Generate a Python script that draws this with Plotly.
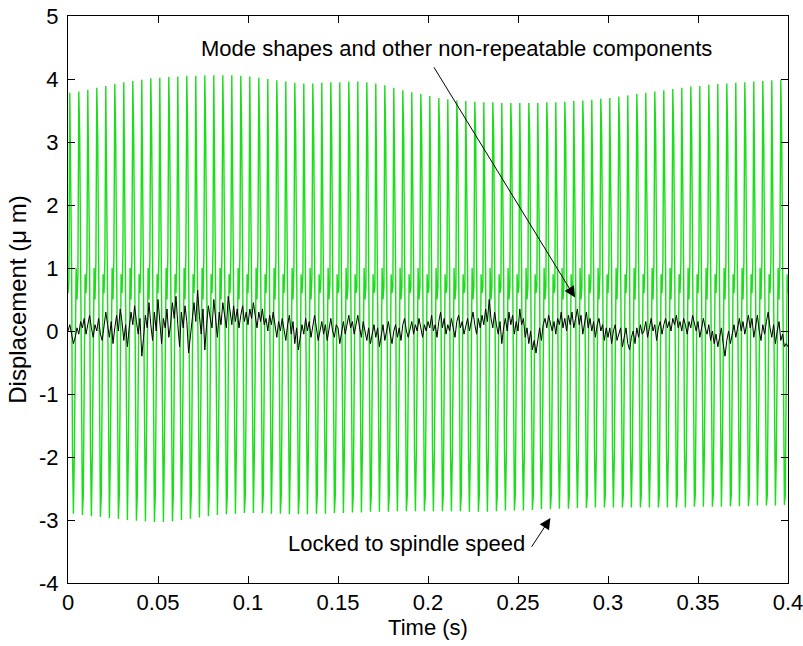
import plotly.graph_objects as go

# ---------------- data ----------------
x_ticks = [0, 0.05, 0.1, 0.15, 0.2, 0.25, 0.3, 0.35, 0.4]
x_tick_labels = ["0", "0.05", "0.1", "0.15", "0.2", "0.25", "0.3", "0.35", "0.4"]
y_ticks = [-4, -3, -2, -1, 0, 1, 2, 3, 4, 5]
y_tick_labels = ["-4", "-3", "-2", "-1", "0", "1", "2", "3", "4", "5"]

spindle_period = 0.005          # one revolution (s)
samples_per_cycle = 10

# per-revolution maximum of the green (locked) signal
peak_per_cycle = [
    3.78, 3.80, 3.83, 3.86, 3.89, 3.92, 3.95, 3.97, 3.99, 4.01,
    4.02, 4.03, 4.04, 4.05, 4.05, 4.06, 4.06, 4.06, 4.06, 4.05,
    4.04, 4.02, 4.00, 3.98, 3.96, 3.94, 3.93, 3.93, 3.94, 3.95,
    3.95, 3.96, 3.96, 3.95, 3.93, 3.90, 3.86, 3.82, 3.79, 3.76,
    3.73, 3.70, 3.68, 3.66, 3.65, 3.64, 3.63, 3.63, 3.62, 3.62,
    3.62, 3.62, 3.62, 3.63, 3.63, 3.64, 3.65, 3.66, 3.67, 3.69,
    3.70, 3.72, 3.74, 3.76, 3.78, 3.80, 3.82, 3.84, 3.86, 3.88,
    3.89, 3.91, 3.92, 3.93, 3.94, 3.95, 3.96, 3.97, 3.98, 3.99,
]
# per-revolution minimum
trough_per_cycle = [
    -2.90, -2.92, -2.94, -2.95, -2.97, -2.98, -3.00, -3.01, -3.02, -3.03,
    -3.03, -3.02, -3.00, -2.98, -2.96, -2.94, -2.92, -2.91, -2.90, -2.89,
    -2.89, -2.89, -2.90, -2.90, -2.91, -2.91, -2.91, -2.90, -2.90, -2.89,
    -2.89, -2.88, -2.88, -2.87, -2.87, -2.87, -2.86, -2.86, -2.86, -2.86,
    -2.86, -2.86, -2.86, -2.86, -2.87, -2.87, -2.87, -2.86, -2.85, -2.85,
    -2.85, -2.84, -2.83, -2.83, -2.82, -2.82, -2.81, -2.81, -2.80, -2.80,
    -2.80, -2.80, -2.80, -2.80, -2.80, -2.80, -2.80, -2.80, -2.80, -2.79,
    -2.79, -2.79, -2.79, -2.78, -2.78, -2.78, -2.77, -2.77, -2.77, -2.76,
]
# per-revolution level of the shoulder band (~1 um)
band_per_cycle = [
    0.80, 0.90, 1.00, 1.10, 1.15, 1.18, 1.20, 1.20, 1.22, 1.22,
    1.22, 1.23, 1.23, 1.23, 1.22, 1.22, 1.21, 1.20, 1.20, 1.19,
    1.18, 1.17, 1.16, 1.15, 1.10, 1.00, 0.90, 0.85, 0.80, 0.75,
    0.70, 0.70, 0.70, 0.70, 0.70, 0.70, 0.70, 0.70, 0.70, 0.70,
    0.70, 0.70, 0.70, 0.70, 0.70, 0.70, 0.70, 0.70, 0.70, 0.70,
    0.70, 0.70, 0.70, 0.70, 0.70, 0.70, 0.70, 0.70, 0.80, 0.90,
    1.00, 1.05, 1.05, 1.06, 1.06, 1.07, 1.07, 1.08, 1.08, 1.08,
    1.09, 1.09, 1.09, 1.10, 1.10, 1.10, 1.10, 1.10, 1.10, 1.10,
]
# sample shapes of one revolution (P = peak, T = trough, B = band level)
shape_even = [0.6, "B", "P", 2.3, 1.0, -1.9, "T", -2.0, 0.3, 1.0]
shape_odd = [0.5, "B", "P", 3.1, 1.2, -0.9, "T", -2.6, 0.0, 0.9]

# black: non-repeatable residual, one value per ms
residual_dt = 0.001
residual = [
    0.00, 0.10, -0.05, -0.20, -0.10, 0.05, -0.05, 0.15, 0.05, 0.20, -0.05, 0.10, 0.25, 0.05, -0.10, 0.10, 0.00, 0.20, -0.05, -0.15,
    0.05, 0.30, 0.10, -0.10, 0.15, -0.20, 0.05, 0.25, 0.00, 0.35, 0.15, -0.15, 0.10, -0.25, 0.05, 0.30, 0.10, 0.40, 0.15, -0.05,
    0.20, -0.40, -0.10, 0.25, 0.05, 0.45, 0.10, -0.15, 0.30, 0.00, 0.50, 0.15, -0.20, 0.20, 0.05, 0.35, -0.10, 0.10, 0.45, 0.20,
    0.55, 0.10, -0.25, 0.30, 0.05, 0.40, 0.15, -0.35, -0.10, 0.20, 0.45, 0.15, 0.65, 0.25, -0.05, 0.35, -0.30, 0.10, 0.40, 0.20,
    0.05, 0.50, 0.20, -0.10, 0.30, 0.10, 0.45, 0.25, 0.05, 0.55, 0.30, 0.10, 0.40, 0.15, 0.35, 0.05, 0.25, 0.40, 0.15, 0.30,
    0.10, 0.35, 0.20, 0.45, 0.25, 0.05, 0.30, 0.15, 0.35, 0.10, 0.20, 0.00, 0.25, 0.10, 0.30, 0.05, -0.10, 0.15, 0.00, 0.20,
    0.05, -0.15, 0.10, 0.25, -0.05, 0.15, -0.20, 0.05, -0.30, -0.10, 0.10, -0.05, 0.20, 0.00, 0.15, -0.10, 0.05, 0.25, 0.05, -0.15,
    0.00, 0.15, -0.05, 0.10, -0.15, 0.05, 0.20, 0.00, -0.10, 0.10, 0.05, -0.20, 0.00, 0.15, -0.05, 0.10, 0.25, 0.05, 0.15, -0.05,
    0.10, 0.25, 0.05, -0.10, 0.15, 0.00, -0.15, 0.05, -0.20, -0.05, 0.10, -0.10, 0.05, -0.25, -0.05, 0.10, -0.15, 0.00, 0.15, -0.05,
    -0.20, 0.00, 0.10, -0.10, 0.05, -0.15, 0.10, 0.20, 0.00, -0.10, 0.05, 0.15, -0.05, 0.10, 0.00, 0.20, 0.05, -0.10, 0.10, 0.00,
    0.15, 0.05, 0.25, 0.00, 0.10, -0.10, 0.15, 0.30, 0.05, 0.20, -0.05, 0.10, 0.00, 0.20, 0.05, -0.10, 0.15, 0.25, 0.05, 0.15,
    -0.05, 0.10, 0.20, 0.00, 0.15, 0.30, 0.10, -0.05, 0.20, 0.05, 0.25, 0.10, 0.35, 0.15, 0.50, 0.20, 0.05, 0.30, 0.10, -0.05,
    0.15, -0.20, 0.05, 0.20, 0.00, 0.30, 0.10, 0.25, -0.05, 0.15, 0.00, 0.35, 0.10, 0.20, -0.10, 0.05, -0.20, 0.00, -0.30, -0.15,
    -0.35, -0.10, 0.05, -0.15, 0.10, 0.20, 0.05, 0.25, 0.10, 0.00, 0.15, -0.05, 0.20, 0.10, 0.30, 0.05, 0.20, 0.00, 0.25, 0.10,
    0.30, 0.05, 0.20, 0.35, 0.10, 0.25, -0.05, 0.15, 0.30, 0.05, 0.20, 0.00, 0.15, -0.10, 0.10, 0.20, 0.00, 0.10, -0.15, 0.05,
    -0.10, 0.05, -0.20, 0.00, 0.10, -0.15, -0.05, 0.05, -0.25, -0.10, 0.05, -0.20, -0.30, -0.10, 0.00, -0.20, 0.05, -0.10, 0.10, -0.05,
    0.00, 0.15, -0.10, 0.05, 0.20, 0.00, 0.10, -0.15, 0.05, 0.15, -0.05, 0.10, 0.20, 0.05, 0.15, 0.00, 0.20, 0.10, 0.25, 0.05,
    0.15, 0.00, 0.20, 0.10, -0.05, 0.15, 0.05, 0.25, 0.10, 0.00, 0.15, -0.10, 0.05, 0.20, 0.05, -0.05, 0.10, -0.15, 0.00, -0.20,
    -0.05, -0.25, -0.10, 0.05, -0.20, -0.40, -0.15, 0.00, -0.20, -0.05, 0.10, -0.10, 0.05, 0.20, 0.00, 0.15, -0.05, 0.10, 0.25, 0.05,
    0.20, -0.10, 0.05, 0.25, 0.00, -0.15, 0.10, -0.05, 0.15, 0.30, 0.05, -0.10, 0.10, -0.20, 0.00, 0.15, -0.15, -0.05, -0.25, -0.20,
    -0.25,
]

annotation_mode_text = "Mode shapes and other non-repeatable components"
annotation_locked_text = "Locked to spindle speed"

# ---------------- build traces ----------------
green_t, green_y = [], []
dt = spindle_period / samples_per_cycle
for i, (p, tr, b) in enumerate(zip(peak_per_cycle, trough_per_cycle, band_per_cycle)):
    shape = shape_even if i % 2 == 0 else shape_odd
    for j, v in enumerate(shape):
        green_t.append(i * spindle_period + j * dt)
        green_y.append(p if v == "P" else tr if v == "T" else b if v == "B" else v)
green_t.append(len(peak_per_cycle) * spindle_period)
green_y.append(shape_even[0])

res_t = [k * residual_dt for k in range(len(residual))]

FONT = "Liberation Sans, Arial, Helvetica, sans-serif"
FS = 22

fig = go.Figure()
fig.add_trace(go.Scatter(x=green_t, y=green_y, mode="lines",
                         line=dict(color="rgb(25,222,25)", width=1.4),
                         hoverinfo="skip", showlegend=False))
fig.add_trace(go.Scatter(x=res_t, y=residual, mode="lines",
                         line=dict(color="black", width=1),
                         showlegend=False))

axis_common = dict(showline=True, linecolor="black", linewidth=1, mirror="ticks",
                   ticks="inside", ticklen=7, tickcolor="black", showgrid=False,
                   zeroline=False, automargin=False, ticklabeloverflow="allow",
                   tickfont=dict(family=FONT, size=FS, color="black"))

fig.update_xaxes(range=[0, 0.4], tickvals=x_ticks, ticktext=x_tick_labels,
                 title=dict(text="Time (s)", font=dict(family=FONT, size=FS, color="black"), standoff=4),
                 **axis_common)
fig.update_yaxes(range=[-4, 5], tickvals=y_ticks, ticktext=y_tick_labels, ticklabelstandoff=4,
                 title=dict(text="Displacement (\u03bc m)", font=dict(family=FONT, size=24, color="black"), standoff=5),
                 **axis_common)

fig.add_annotation(x=0.2817, y=0.53, ax=0.2028, ay=4.21, xref="x", yref="y", axref="x", ayref="y",
                   text="", showarrow=True, arrowhead=2, arrowsize=2.2, arrowwidth=1, arrowcolor="black")
fig.add_annotation(x=0.268, y=-2.97, ax=0.257, ay=-3.45, xref="x", yref="y", axref="x", ayref="y",
                   text="", showarrow=True, arrowhead=2, arrowsize=2.2, arrowwidth=1, arrowcolor="black")
fig.add_annotation(x=0.2156, y=4.48, xref="x", yref="y", text=annotation_mode_text, showarrow=False,
                   font=dict(family=FONT, size=FS, color="black"))
fig.add_annotation(x=0.1878, y=-3.37, xref="x", yref="y", text=annotation_locked_text, showarrow=False,
                   font=dict(family=FONT, size=FS, color="black"))

fig.update_layout(width=803, height=646, margin=dict(l=68, r=15, t=16, b=63),
                  plot_bgcolor="white", paper_bgcolor="white",
                  font=dict(family=FONT, size=FS, color="black"))

fig.write_html("out.html", config={"displayModeBar": False},
               post_script="document.body.style.margin='0px';")
